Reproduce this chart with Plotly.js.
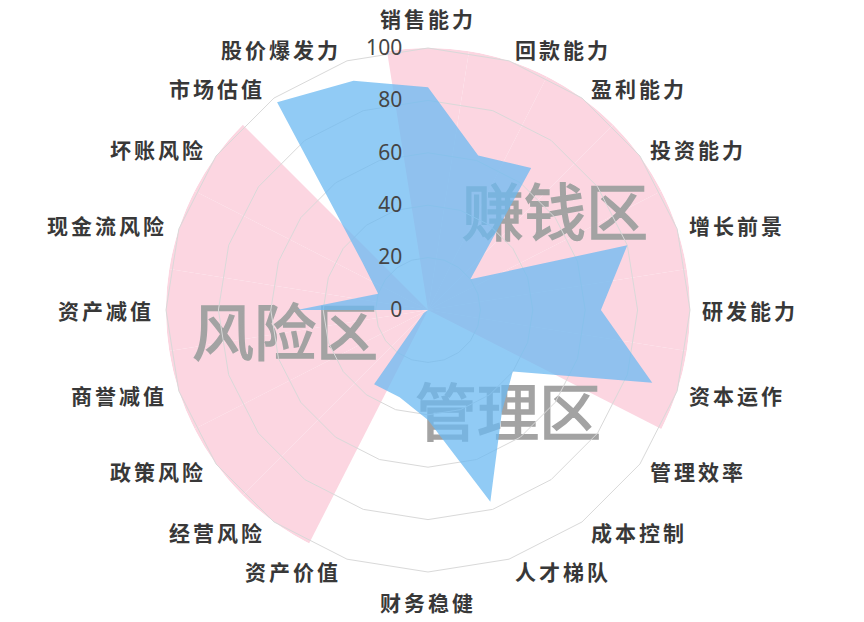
<!DOCTYPE html>
<html><head><meta charset="utf-8">
<script src="https://cdn.plot.ly/plotly-3.0.1.min.js"></script>
<style>html,body{margin:0;padding:0;background:#fff}#chart{width:864px;height:622px}
.annotation-text{letter-spacing:3px}
.polarlayer .textpoint text{stroke:#a3a3a3;stroke-width:1.6px}</style>
</head><body><div id="chart"></div>
<script>
// ---- data ----
const categories = ['销售能力','回款能力','盈利能力','投资能力','增长前景','研发能力','资本运作',
  '管理效率','成本控制','人才梯队','财务稳健','资产价值','经营风险','政策风险','商誉减值',
  '资产减值','现金流风险','坏账风险','市场估值','股价爆发力'];
const scores = [85,62,67,20,80,66,90,40,48,77,42,35,35,2,0,50,20,31,98,92];
const profitZoneCats = ['销售能力','回款能力','盈利能力','投资能力','增长前景','研发能力','资本运作'];
const riskZoneCats = ['经营风险','政策风险','商誉减值','资产减值','现金流风险','坏账风险'];
const zoneLabels = ['赚钱区','风险区','管理区'];
const zoneMax = 100;
const radialTicks = [0,20,40,60,80,100];

// ---- build ----
const W = 864, H = 622;
const box = {l:166, r:690, t:48, b:572};
const cx = (box.l + box.r) / 2, cy = (box.t + box.b) / 2, R = (box.r - box.l) / 2;
const step = 360 / categories.length;
const zoneCats = profitZoneCats.concat(riskZoneCats);
const zoneTheta = zoneCats.map(c => categories.indexOf(c) * step);
const zoneR = zoneCats.map(() => zoneMax);
const dom = {x:[box.l/W, box.r/W], y:[1-box.b/H, 1-box.t/H]};

// category labels placed just outside the outer ring
const labelFont = {family:'"Noto Sans CJK SC"', size:21, color:'#383838', weight:'bold'};
const annotations = categories.map((c, i) => {
  const a = i * step * Math.PI / 180, s = Math.sin(a), co = Math.cos(a);
  let px = cx + R * s, py = cy - R * co, xa, ya;
  if (Math.abs(s) < 0.1) {
    xa = 'center';
    if (co > 0) { ya = 'bottom'; py -= 14; } else { ya = 'top'; py += 14; }
  } else {
    xa = s > 0 ? 'left' : 'right';
    px += (s > 0 ? 1 : -1) * (3 + 8 * Math.abs(s));
    ya = 'middle';
    py -= 12 * co;
  }
  return {text:c, xref:'paper', yref:'paper', x:px/W, y:1-py/H, xanchor:xa, yanchor:ya,
          showarrow:false, font:labelFont, borderpad:0};
});

const traces = [
  {type:'barpolar', subplot:'polar', r: zoneR, theta: zoneTheta, width: step,
   marker:{color:'#FCD6E1', line:{width:0}}, hoverinfo:'skip'},
  {type:'scatterpolar', subplot:'polar', mode:'text', r:[59.4,55.8,51.9], theta:[54.7,257.8,144],
   text: zoneLabels, textposition:'middle center',
   textfont:{family:'"Noto Sans CJK SC"', size:62, color:'#a3a3a3'}, hoverinfo:'skip'},
  {type:'scatterpolar', subplot:'polar2', mode:'lines', fill:'toself',
   r: scores.concat([scores[0]]), theta: categories.concat([categories[0]]),
   line:{width:0, color:'rgba(0,0,0,0)'}, fillcolor:'rgba(108,186,242,0.75)', hoverinfo:'skip'}
];

const layout = {
  width:W, height:H, margin:{l:0,r:0,t:0,b:0}, paper_bgcolor:'#fff', showlegend:false,
  annotations: annotations,
  polar:{domain:dom, bgcolor:'#fff',
    radialaxis:{range:[0,zoneMax], visible:false},
    angularaxis:{type:'linear', thetaunit:'degrees', rotation:90, direction:'clockwise', visible:false}},
  polar2:{domain:dom, bgcolor:'rgba(0,0,0,0)', gridshape:'linear',
    radialaxis:{range:[0,zoneMax], angle:90, side:'counterclockwise', tickvals:radialTicks,
      ticks:'outside', ticklen:18, tickcolor:'rgba(0,0,0,0)', tickangle:90,
      showline:false, gridcolor:'#d9d9d9', gridwidth:1,
      tickfont:{family:'"Noto Sans", "Noto Sans CJK SC"', size:21, color:'#454545'}},
    angularaxis:{type:'category', categoryarray:categories, rotation:90, direction:'clockwise',
      showgrid:false, showline:true, linecolor:'#d9d9d9', linewidth:1,
      ticks:'', showticklabels:false}}
};
Plotly.newPlot('chart', traces, layout, {staticPlot:true});
</script></body></html>
